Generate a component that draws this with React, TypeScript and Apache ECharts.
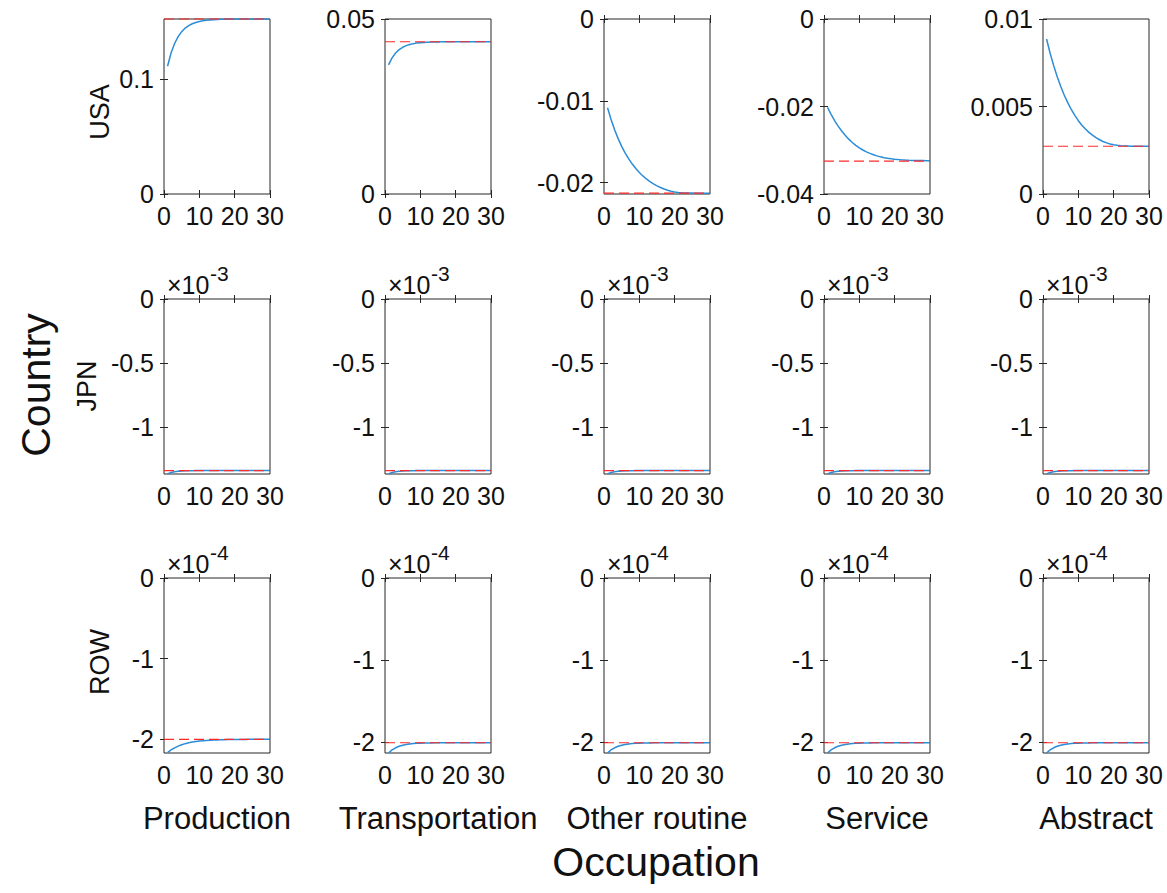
import React, { useEffect, useRef } from "react";
import * as echarts from "echarts";

const occupations = ["Production", "Transportation", "Other routine", "Service", "Abstract"];
const countries = ["USA", "JPN", "ROW"];
const periods = [1, 2, 3, 4, 5, 6, 7, 8, 9, 10, 11, 12, 13, 14, 15, 16, 17, 18, 19, 20, 21, 22, 23, 24, 25, 26, 27, 28, 29, 30];

// USA paths
const usaProduction = [0.1110, 0.1225, 0.1307, 0.1367, 0.1410, 0.1441, 0.1463, 0.1479, 0.1490, 0.1499, 0.1505, 0.1509, 0.1512, 0.1514, 0.1516, 0.1517, 0.1518, 0.1518, 0.1519, 0.1519, 0.1519, 0.1519, 0.1520, 0.1520, 0.1520, 0.1520, 0.1520, 0.1520, 0.1520, 0.1520];
const usaTransportation = [0.03690, 0.03888, 0.04027, 0.04124, 0.04192, 0.04239, 0.04272, 0.04296, 0.04312, 0.04323, 0.04331, 0.04337, 0.04341, 0.04344, 0.04346, 0.04347, 0.04348, 0.04348, 0.04349, 0.04349, 0.04350, 0.04350, 0.04350, 0.04350, 0.04350, 0.04350, 0.04350, 0.04350, 0.04350, 0.04350];
const usaOtherRoutine = [-0.01085, -0.01230, -0.01355, -0.01463, -0.01557, -0.01639, -0.01711, -0.01774, -0.01829, -0.01877, -0.01919, -0.01956, -0.01988, -0.02016, -0.02040, -0.02061, -0.02079, -0.02094, -0.02106, -0.02115, -0.02121, -0.02125, -0.02127, -0.02128, -0.02129, -0.02130, -0.02130, -0.02130, -0.02130, -0.02130];
const usaService = [-0.02020, -0.02180, -0.02322, -0.02448, -0.02560, -0.02659, -0.02746, -0.02822, -0.02888, -0.02945, -0.02994, -0.03036, -0.03072, -0.03103, -0.03129, -0.03151, -0.03169, -0.03184, -0.03196, -0.03206, -0.03214, -0.03220, -0.03225, -0.03229, -0.03232, -0.03234, -0.03236, -0.03237, -0.03238, -0.03238];
const usaAbstract = [0.00886, 0.00806, 0.00735, 0.00672, 0.00616, 0.00566, 0.00522, 0.00483, 0.00449, 0.00419, 0.00393, 0.00371, 0.00352, 0.00336, 0.00322, 0.00310, 0.00300, 0.00292, 0.00286, 0.00281, 0.00278, 0.00276, 0.00275, 0.00274, 0.00273, 0.00273, 0.00273, 0.00273, 0.00273, 0.00273];

// JPN paths (identical across occupations)
const jpnPath = [-1.367e-3, -1.3566e-3, -1.3504e-3, -1.3466e-3, -1.3444e-3, -1.3430e-3, -1.3422e-3, -1.3417e-3, -1.3414e-3, -1.3413e-3, -1.3412e-3, -1.3411e-3, -1.341e-3, -1.341e-3, -1.341e-3, -1.341e-3, -1.341e-3, -1.341e-3, -1.341e-3, -1.341e-3, -1.341e-3, -1.341e-3, -1.341e-3, -1.341e-3, -1.341e-3, -1.341e-3, -1.341e-3, -1.341e-3, -1.341e-3, -1.341e-3];

// ROW paths
const rowProduction = [-2.165e-4, -2.132e-4, -2.1056e-4, -2.0845e-4, -2.0676e-4, -2.0541e-4, -2.0432e-4, -2.0346e-4, -2.0277e-4, -2.0221e-4, -2.0177e-4, -2.0142e-4, -2.0113e-4, -2.0091e-4, -2.0073e-4, -2.0058e-4, -2.0046e-4, -2.0037e-4, -2.0030e-4, -2.0024e-4, -2.0019e-4, -2.0015e-4, -2.0012e-4, -2.0010e-4, -2.0008e-4, -2.0006e-4, -2.0005e-4, -2.0004e-4, -2.0003e-4, -2.0002e-4];
const rowOthers = [-2.135e-4, -2.0975e-4, -2.0713e-4, -2.0529e-4, -2.0400e-4, -2.0310e-4, -2.0247e-4, -2.0203e-4, -2.0172e-4, -2.0151e-4, -2.0135e-4, -2.0125e-4, -2.0117e-4, -2.0112e-4, -2.0109e-4, -2.0106e-4, -2.0104e-4, -2.0103e-4, -2.0102e-4, -2.0101e-4, -2.0101e-4, -2.0101e-4, -2.0100e-4, -2.0100e-4, -2.0100e-4, -2.0100e-4, -2.0100e-4, -2.0100e-4, -2.0100e-4, -2.0100e-4];

const paths = [
  [usaProduction, usaTransportation, usaOtherRoutine, usaService, usaAbstract],
  [jpnPath, jpnPath, jpnPath, jpnPath, jpnPath],
  [rowProduction, rowOthers, rowOthers, rowOthers, rowOthers],
];

// steady states (red dashed)
const steadyUSA = [0.1520, 0.0435, -0.0213, -0.0325, 0.00273];
const steadyJPN = [-1.341e-3, -1.341e-3, -1.341e-3, -1.341e-3, -1.341e-3];
const steadyROW = [-2.0e-4, -2.01e-4, -2.01e-4, -2.01e-4, -2.01e-4];
const steady = [steadyUSA, steadyJPN, steadyROW];

// y ranges and ticks
const yMin = [
  [0, 0, -0.0214, -0.04, 0],
  [-1.368e-3, -1.368e-3, -1.368e-3, -1.368e-3, -1.368e-3],
  [-2.17e-4, -2.135e-4, -2.135e-4, -2.135e-4, -2.135e-4],
];
const yMax = [
  [0.152, 0.05, 0, 0, 0.01],
  [0, 0, 0, 0, 0],
  [0, 0, 0, 0, 0],
];
const yTicksUSA = [[0, 0.1], [0, 0.05], [-0.02, -0.01, 0], [-0.04, -0.02, 0], [0, 0.005, 0.01]];
const yTicksJPN = [-1e-3, -0.5e-3, 0];
const yTicksROW = [-2e-4, -1e-4, 0];
const rowExponent = [0, -3, -4];
const xTicks = [0, 10, 20, 30];

const FONT = "'Liberation Sans', Arial, Helvetica, sans-serif";
const TXT = "#111";
const AX = "#262626";

export default function App() {
  const ref = useRef<HTMLDivElement>(null);
  useEffect(() => {
    if (!ref.current) return;
    const chart = echarts.init(ref.current, undefined, { renderer: "svg" });
    const colLeft = [164, 385, 604, 824, 1043];
    const colWidth = 106;
    const rowTop = [19, 299, 578];
    const rowHeight = 175;
    const xLo = xTicks[0];
    const xHi = xTicks[xTicks.length - 1];

    const grids: any[] = [];
    const xAxes: any[] = [];
    const yAxes: any[] = [];
    const series: any[] = [];
    const graphics: any[] = [];

    const fmt = (v: number, exp: number) => {
      const s = v / Math.pow(10, exp);
      return String(Number(s.toPrecision(6)));
    };

    for (let r = 0; r < 3; r++) {
      for (let c = 0; c < 5; c++) {
        const i = r * 5 + c;
        grids.push({
          left: colLeft[c], top: rowTop[r], width: colWidth, height: rowHeight,
          show: true, borderColor: AX, borderWidth: 1, backgroundColor: "#fff",
        });
        const ticks = r === 0 ? yTicksUSA[c] : r === 1 ? yTicksJPN : yTicksROW;
        const exp = rowExponent[r];
        xAxes.push({
          type: "value", gridIndex: i, position: "bottom", min: xLo, max: xHi, interval: 10,
          axisLine: { show: false },
          axisTick: { show: true, inside: true, length: 4, lineStyle: { color: AX } },
          axisLabel: { show: true, fontSize: 25, fontFamily: FONT, color: TXT, margin: 9,
            customValues: xTicks },
          splitLine: { show: false },
        });
        xAxes.push({
          type: "value", gridIndex: i, position: "top", min: xLo, max: xHi, interval: 10,
          axisLine: { show: false },
          axisTick: { show: true, inside: true, length: 4, lineStyle: { color: AX } },
          axisLabel: { show: false },
          splitLine: { show: false },
        });
        yAxes.push({
          type: "value", gridIndex: i, position: "left", min: yMin[r][c], max: yMax[r][c],
          axisLine: { show: false },
          axisTick: { show: true, inside: true, length: 4, lineStyle: { color: AX }, customValues: ticks },
          axisLabel: { show: true, fontSize: 25, fontFamily: FONT, color: TXT, margin: 10,
            customValues: ticks, formatter: (v: number) => fmt(v, exp) },
          splitLine: { show: false },
        });
        yAxes.push({
          type: "value", gridIndex: i, position: "right", min: yMin[r][c], max: yMax[r][c],
          axisLine: { show: false },
          axisTick: { show: true, inside: true, length: 4, lineStyle: { color: AX }, customValues: ticks },
          axisLabel: { show: false },
          splitLine: { show: false },
        });
        series.push({
          type: "line", xAxisIndex: 2 * i, yAxisIndex: 2 * i,
          data: periods.map((t, k) => [t, paths[r][c][k]]),
          showSymbol: false, symbol: "none", silent: true, clip: true, smooth: false,
          lineStyle: { color: "#2b8cd8", width: 1.5 },
          z: 2,
        });
        series.push({
          type: "line", xAxisIndex: 2 * i, yAxisIndex: 2 * i,
          data: [[xLo, steady[r][c]], [xHi, steady[r][c]]],
          showSymbol: false, symbol: "none", silent: true, clip: false,
          lineStyle: { color: "#ff2a2a", type: [10, 5], width: 1.2 },
          z: 3,
        });
        if (exp !== 0) {
          const ty = rowTop[r] - 14;
          graphics.push({
            type: "text", x: colLeft[c] + 3, y: ty,
            style: { text: "\u00d710", fontSize: 25, fontFamily: FONT, fill: TXT, align: "left", verticalAlign: "middle" },
          });
          graphics.push({
            type: "text", x: colLeft[c] + 46, y: ty - 12,
            style: { text: String(exp), fontSize: 21, fontFamily: FONT, fill: TXT, align: "left", verticalAlign: "middle" },
          });
        }
      }
    }

    // column labels
    occupations.forEach((name, c) => {
      graphics.push({
        type: "text", x: colLeft[c] + colWidth / 2, y: 818,
        style: { text: name, fontSize: 31, fontFamily: FONT, fill: TXT, align: "center", verticalAlign: "middle" },
      });
    });
    // row labels
    const rowLabelX = [100, 87, 100];
    const rowLabelY = [112, 386, 662];
    countries.forEach((name, r) => {
      graphics.push({
        type: "text", x: rowLabelX[r], y: rowLabelY[r], rotation: Math.PI / 2,
        style: { text: name, fontSize: 27, fontFamily: FONT, fill: TXT, align: "center", verticalAlign: "middle" },
      });
    });
    graphics.push({
      type: "text", x: 656, y: 862,
      style: { text: "Occupation", fontSize: 41, fontFamily: FONT, fill: TXT, align: "center", verticalAlign: "middle" },
    });
    graphics.push({
      type: "text", x: 36, y: 385, rotation: Math.PI / 2,
      style: { text: "Country", fontSize: 41, fontFamily: FONT, fill: TXT, align: "center", verticalAlign: "middle" },
    });

    chart.setOption({
      animation: false,
      backgroundColor: "#fff",
      grid: grids,
      xAxis: xAxes,
      yAxis: yAxes,
      series,
      graphic: graphics,
    });
    return () => chart.dispose();
  }, []);
  return <div ref={ref} style={{ position: "fixed", left: 0, top: 0, width: 1167, height: 893 }} />;
}
